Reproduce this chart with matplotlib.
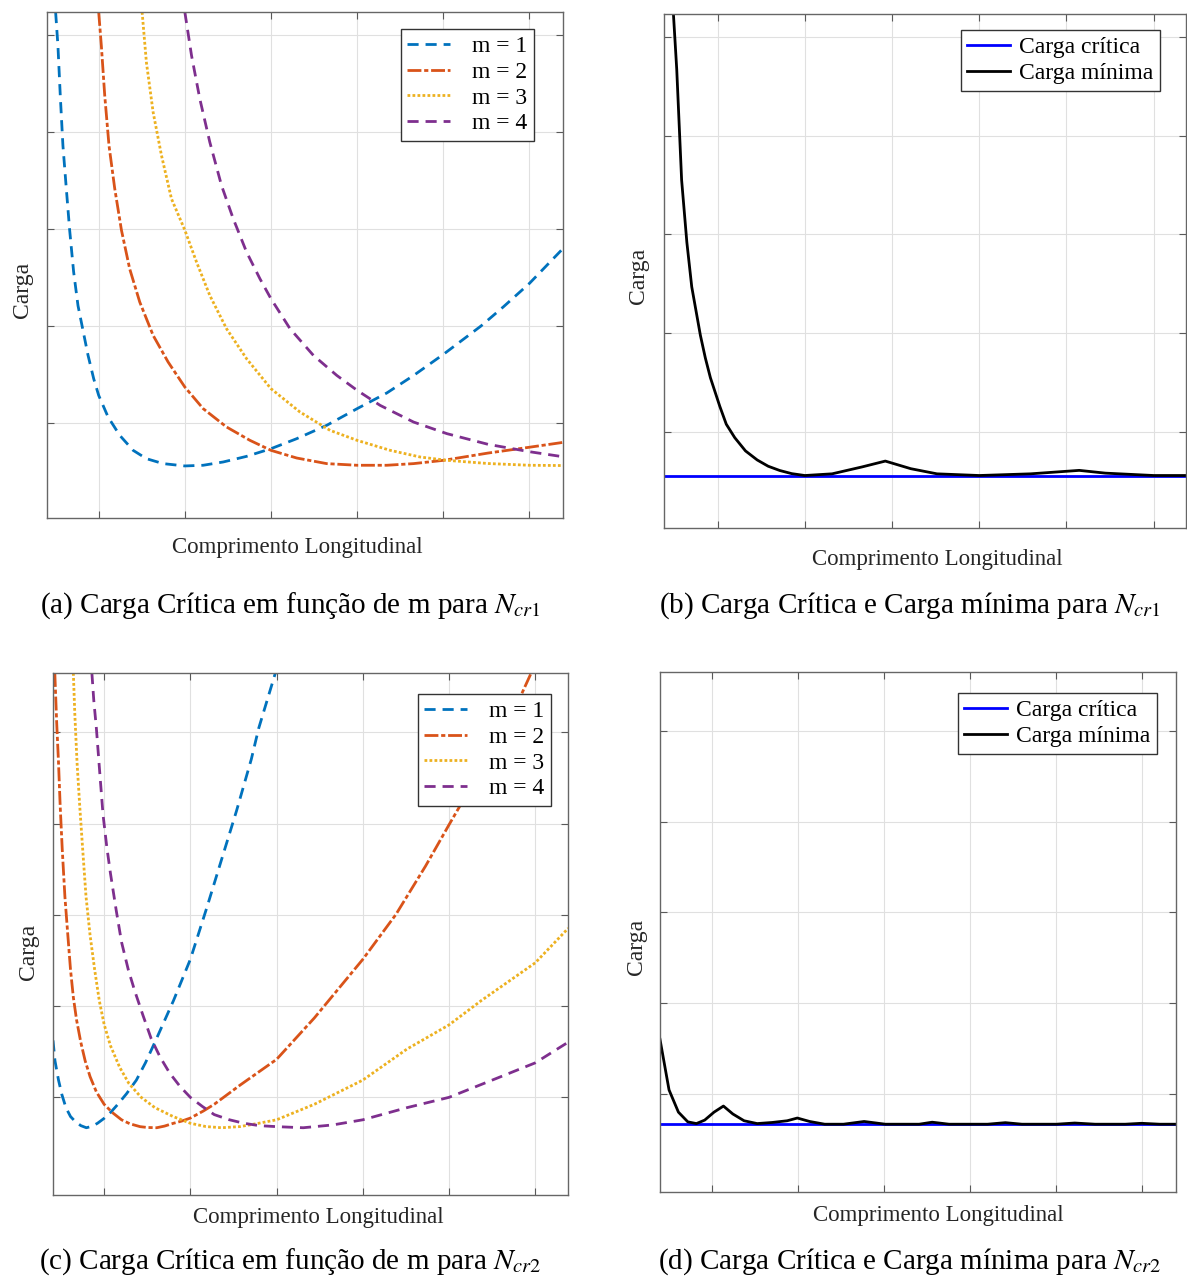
import numpy as np
import matplotlib
matplotlib.use("Agg")
import matplotlib.pyplot as plt

plt.rcParams['font.family'] = ['Liberation Serif', 'DejaVu Serif']
plt.rcParams['mathtext.fontset'] = 'stix'

# ---------------- data (grid units) ----------------
# panel (a): critical load vs length for m = 1..4 (N_cr1)
a_x1 = [0.500, 0.527, 0.554, 0.585, 0.624, 0.663, 0.709, 0.76, 0.81, 0.876, 0.942, 1.0,
        1.109, 1.244, 1.4, 1.554, 1.748, 2.0, 2.213, 2.446, 2.717, 3.0, 3.298, 3.647,
        4.0, 4.345, 4.655, 5.004, 5.437, 5.7, 6.0, 6.39]
a_y1 = [5.24, 4.89, 4.38, 3.86, 3.42, 2.99, 2.56, 2.21, 1.99, 1.70, 1.457, 1.285,
        1.062, 0.873, 0.718, 0.632, 0.581, 0.557, 0.564, 0.598, 0.656, 0.735, 0.838, 0.976,
        1.148, 1.31, 1.49, 1.71, 2.0, 2.2, 2.44, 2.80]
a_x2 = [1.0, 1.031, 1.07, 1.12, 1.186, 1.264, 1.36, 1.477, 1.632, 1.806, 2.0, 2.213,
        2.484, 2.756, 3.0, 3.298, 3.647, 4.0, 4.345, 4.655, 5.004, 5.52, 6.0, 6.39]
a_y2 = [5.24, 4.89, 4.38, 3.86, 3.42, 2.99, 2.59, 2.247, 1.904, 1.629, 1.371, 1.148,
        0.959, 0.821, 0.718, 0.639, 0.581, 0.564, 0.564, 0.581, 0.615, 0.69, 0.75, 0.80]
a_x3 = [1.504, 1.554, 1.632, 1.729, 1.845, 2.0, 2.136, 2.29, 2.484, 2.717, 3.0, 3.337,
        3.686, 4.0, 4.384, 4.733, 5.043, 5.52, 6.0, 6.39]
a_y3 = [5.24, 4.72, 4.206, 3.76, 3.313, 2.99, 2.66, 2.316, 1.973, 1.663, 1.354, 1.113,
        0.924, 0.821, 0.718, 0.649, 0.615, 0.582, 0.564, 0.561]
a_x4 = [2.0, 2.078, 2.174, 2.29, 2.426, 2.562, 2.717, 2.872, 3.0, 3.221, 3.492, 3.764,
        4.0, 4.267, 4.655, 5.043, 5.52, 6.0, 6.39]
a_y4 = [5.24, 4.79, 4.344, 3.897, 3.45, 3.107, 2.763, 2.488, 2.282, 1.973, 1.698, 1.491,
        1.337, 1.182, 1.01, 0.89, 0.78, 0.704, 0.652]

# panel (b): critical and minimum load (N_cr1)
b_crit = 0.561
b_x = [0.494, 0.532, 0.588, 0.648, 0.704, 0.803, 0.86, 0.918, 1.026, 1.1, 1.197, 1.32,
       1.455, 1.58, 1.712, 1.85, 2.0, 2.313, 2.657, 2.923, 3.215, 3.515, 4.0, 4.588,
       5.146, 5.446, 6.0, 6.38]
b_y = [5.23, 4.67, 3.55, 2.92, 2.47, 1.98, 1.75, 1.55, 1.26, 1.08, 0.944, 0.81,
       0.718, 0.655, 0.612, 0.58, 0.561, 0.578, 0.648, 0.707, 0.63, 0.578, 0.561, 0.578,
       0.613, 0.585, 0.561, 0.561]

# panel (c): critical load vs length for m = 1..4 (N_cr2)
c_x1 = [0.407, 0.43, 0.471, 0.51, 0.557, 0.61, 0.665, 0.73, 0.794, 0.86, 0.923, 1.0,
        1.08, 1.159, 1.26, 1.374, 1.48, 1.589, 1.804, 2.0, 2.191, 2.363, 2.535, 2.707,
        2.793, 2.986]
c_y1 = [1.624, 1.40, 1.189, 1.03, 0.887, 0.79, 0.735, 0.69, 0.667, 0.683, 0.716, 0.77,
        0.84, 0.924, 1.04, 1.189, 1.38, 1.605, 2.059, 2.512, 3.079, 3.609, 4.138, 4.705,
        5.045, 5.65]
c_x2 = [0.428, 0.45, 0.471, 0.49, 0.514, 0.545, 0.579, 0.61, 0.643, 0.68, 0.729, 0.78,
        0.837, 0.91, 1.0, 1.1, 1.202, 1.3, 1.417, 1.5, 1.61, 1.7, 1.804, 1.9, 2.0, 2.15,
        2.277, 2.578, 3.0, 3.438, 4.0, 4.384, 4.727, 5.0, 5.372, 5.716, 5.953]
c_y2 = [5.65, 5.1, 4.667, 4.2, 3.722, 3.2, 2.777, 2.4, 2.096, 1.85, 1.605, 1.40,
        1.227, 1.06, 0.924, 0.83, 0.754, 0.71, 0.679, 0.67, 0.667, 0.685, 0.716, 0.74,
        0.773, 0.85, 0.924, 1.135, 1.416, 1.87, 2.512, 3.004, 3.533, 3.987, 4.592, 5.159,
        5.65]
c_x3 = [0.643, 0.66, 0.686, 0.72, 0.751, 0.79, 0.837, 0.89, 0.944, 1.0, 1.073, 1.18,
        1.288, 1.43, 1.589, 1.8, 2.0, 2.18, 2.363, 2.58, 2.793, 3.0, 3.438, 4.0, 4.512,
        5.0, 5.372, 6.0, 6.383]
c_y3 = [5.65, 5.2, 4.667, 4.15, 3.722, 3.2, 2.777, 2.4, 2.059, 1.8, 1.567, 1.33,
        1.151, 1.0, 0.887, 0.79, 0.716, 0.68, 0.667, 0.68, 0.716, 0.754, 0.924, 1.189,
        1.529, 1.794, 2.059, 2.474, 2.853]
c_x4 = [0.858, 0.88, 0.91, 0.95, 0.987, 1.03, 1.073, 1.14, 1.202, 1.28, 1.353, 1.45,
        1.546, 1.65, 1.761, 1.88, 2.0, 2.14, 2.277, 2.45, 2.621, 2.8, 3.0, 3.309, 3.653,
        4.0, 4.512, 5.0, 5.501, 6.0, 6.383]
c_y4 = [5.65, 5.35, 5.045, 4.55, 4.1, 3.75, 3.457, 3.05, 2.701, 2.4, 2.172, 1.9,
        1.643, 1.44, 1.265, 1.12, 1.0, 0.9, 0.811, 0.755, 0.716, 0.69, 0.679, 0.667, 0.698,
        0.754, 0.887, 1.0, 1.189, 1.378, 1.605]

# panel (d): critical and minimum load (N_cr2)
d_crit = 0.667
d_x = [0.394, 0.499, 0.608, 0.717, 0.817, 0.913, 1.022, 1.131, 1.24, 1.371, 1.523, 1.697,
       1.872, 1.99, 2.133, 2.308, 2.526, 2.766, 3.013, 3.405, 3.557, 3.753, 4.2, 4.407,
       4.6, 5.0, 5.213, 5.45, 5.8, 5.99, 6.2, 6.39]
d_y = [1.602, 1.045, 0.8, 0.693, 0.674, 0.712, 0.8, 0.867, 0.78, 0.705, 0.674, 0.686,
       0.705, 0.735, 0.697, 0.667, 0.667, 0.697, 0.667, 0.667, 0.689, 0.667, 0.667, 0.684,
       0.667, 0.667, 0.680, 0.667, 0.667, 0.677, 0.667, 0.667]

m_labels = ['m = 1', 'm = 2', 'm = 3', 'm = 4']
min_labels = ['Carga crítica', 'Carga mínima']
captions = ['(a) Carga Crítica em função de m para $N_{cr1}$',
            '(b) Carga Crítica e Carga mínima para $N_{cr1}$',
            '(c) Carga Crítica em função de m para $N_{cr2}$',
            '(d) Carga Crítica e Carga mínima para $N_{cr2}$']

colors = ['#0072BD', '#D95319', '#EDB120', '#7E2F8E']
styles = [(0, (4, 2.5)), (0, (5, 1, 1.5, 1)), (0, (1, 0.8)), (0, (4, 2.5))]

W, H = 1187, 1277
fig = plt.figure(figsize=(W / 100, H / 100), dpi=100)


def box(l, t, r, b):
    return [l / W, 1 - b / H, (r - l) / W, (b - t) / H]


def style_axes(ax, xlim, ylim):
    ax.set_xlim(*xlim)
    ax.set_ylim(*ylim)
    ax.set_xticks([1, 2, 3, 4, 5, 6])
    ax.set_yticks([1, 2, 3, 4, 5])
    ax.set_xticklabels([])
    ax.set_yticklabels([])
    ax.tick_params(direction='in', top=True, right=True, length=5, width=0.8, color='0.35')
    ax.grid(True, color='0.88', linewidth=0.8)
    ax.set_axisbelow(True)
    for s in ax.spines.values():
        s.set_color('0.4')
        s.set_linewidth(1.0)


ax_a = fig.add_axes(box(47, 12, 563, 518))
ax_b = fig.add_axes(box(664, 14, 1186, 528))
ax_c = fig.add_axes(box(53, 673, 568, 1195))
ax_d = fig.add_axes(box(660, 672, 1176, 1192))

# (a)
for xs, ys, c, ls, lab in zip([a_x1, a_x2, a_x3, a_x4], [a_y1, a_y2, a_y3, a_y4],
                              colors, styles, m_labels):
    ax_a.plot(xs, ys, color=c, linestyle=ls, linewidth=2, label=lab)
style_axes(ax_a, (0.40, 6.39), (0.02, 5.24))

# (c)
for xs, ys, c, ls, lab in zip([c_x1, c_x2, c_x3, c_x4], [c_y1, c_y2, c_y3, c_y4],
                              colors, styles, m_labels):
    ax_c.plot(xs, ys, color=c, linestyle=ls, linewidth=2, label=lab)
style_axes(ax_c, (0.407, 6.38), (-0.07, 5.65))

# (b)
ax_b.axhline(b_crit, color='blue', linewidth=2, label=min_labels[0])
ax_b.plot(b_x, b_y, color='black', linewidth=2, label=min_labels[1])
style_axes(ax_b, (0.386, 6.37), (0.03, 5.23))

# (d)
ax_d.axhline(d_crit, color='blue', linewidth=2, label=min_labels[0])
ax_d.plot(d_x, d_y, color='black', linewidth=2, label=min_labels[1])
style_axes(ax_d, (0.394, 6.39), (-0.08, 5.65))

leg_kw = dict(fontsize=17, fancybox=False, framealpha=1, edgecolor='0.2',
              borderpad=0.28, labelspacing=0.18, borderaxespad=0, handlelength=1.8)
la = ax_a.legend(loc='upper right', bbox_to_anchor=(534 / W, 1 - 29 / H),
                 bbox_transform=fig.transFigure, handletextpad=0.95, **leg_kw)
lc = ax_c.legend(loc='upper right', bbox_to_anchor=(551 / W, 1 - 694 / H),
                 bbox_transform=fig.transFigure, handletextpad=0.95, **leg_kw)
lb = ax_b.legend(loc='upper right', bbox_to_anchor=(1160 / W, 1 - 30 / H),
                 bbox_transform=fig.transFigure, handletextpad=0.4, **leg_kw)
ld = ax_d.legend(loc='upper right', bbox_to_anchor=(1157 / W, 1 - 693 / H),
                 bbox_transform=fig.transFigure, handletextpad=0.4, **leg_kw)
for lg in (la, lb, lc, ld):
    lg.get_frame().set_linewidth(1.0)

# axis labels
for x, y in [(297, 548), (937, 559), (318, 1218), (938, 1215)]:
    fig.text(x / W, 1 - y / H, 'Comprimento Longitudinal', fontsize=16.5,
             ha='center', va='center', color='0.15')
for x, y in [(22, 290), (638, 276), (28, 952), (637, 947)]:
    fig.text(x / W, 1 - y / H, 'Carga', fontsize=17, rotation=90,
             ha='center', va='center', color='0.15')

# captions
for (x, y), txt in zip([(290, 606), (910, 606), (290, 1262), (910, 1262)], captions):
    fig.text(x / W, 1 - y / H, txt, fontsize=21, ha='center', va='center')

fig.savefig('out.png', dpi=100)
